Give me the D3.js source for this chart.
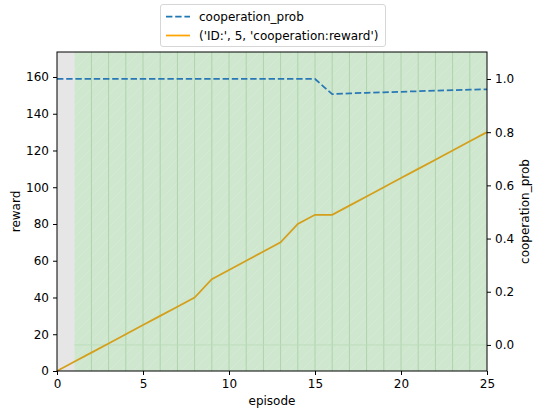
<!DOCTYPE html>
<html>
  <head>
    <meta charset="utf-8">
    <title>cooperation</title>
    <style>
      body { margin: 0; background: white; }
      text { font-family: "DejaVu Sans", sans-serif; font-size: 12px; fill: #000; }
      .axis path, .axis line { stroke: #000; stroke-width: 1; }
    </style>
  </head>
  <body>
    <svg width="534" height="410"></svg>
    <script src="https://d3js.org/d3.v7.min.js"></script>
    <script type="application/javascript">
      const episodes = d3.range(0, 26);
      const reward = [0, 5, 10, 15, 20, 25, 30, 35, 40, 50, 55, 60, 65, 70, 80, 85, 85,
                      90, 95, 100, 105, 110, 115, 120, 125, 130];
      const coopProb = [1, 1, 1, 1, 1, 1, 1, 1, 1, 1, 1, 1, 1, 1, 1, 1,
                        0.943, 0.946, 0.948, 0.950, 0.952, 0.954, 0.956, 0.958, 0.960, 0.961];
      const rewardTicks = [0, 20, 40, 60, 80, 100, 120, 140, 160];
      const probTicks = [0.0, 0.2, 0.4, 0.6, 0.8, 1.0];
      const xTicks = [0, 5, 10, 15, 20, 25];
      const legendLabels = ["cooperation_prob", "('ID:', 5, 'cooperation:reward')"];

      const svg = d3.select("svg");
      const m = {left: 57, right: 487, top: 52, bottom: 371};

      const x = d3.scaleLinear().domain([0, 25]).range([m.left, m.right]);
      const yL = d3.scaleLinear().domain([0, 173.6]).range([m.bottom, m.top]);
      const yR = d3.scaleLinear().domain([-0.098, 1.1015]).range([m.bottom, m.top]);

      const defs = svg.append("defs");
      const pat = defs.append("pattern")
        .attr("id", "hatch")
        .attr("patternUnits", "userSpaceOnUse")
        .attr("width", 12).attr("height", 12);
      pat.append("path")
        .attr("d", "M0,12 L12,0 M-3,3 L3,-3 M9,15 L15,9")
        .attr("stroke", "white").attr("stroke-width", 0.7).attr("opacity", 0.15);

      // grey background for the first step
      svg.append("rect")
        .attr("x", x(0)).attr("y", m.top)
        .attr("width", x(1) - x(0)).attr("height", m.bottom - m.top)
        .attr("fill", "#e6e6e6");

      // green span
      svg.append("rect")
        .attr("x", x(1)).attr("y", m.top)
        .attr("width", x(25) - x(1)).attr("height", m.bottom - m.top)
        .attr("fill", "#d0e7cf");
      svg.append("rect")
        .attr("x", x(1)).attr("y", m.top)
        .attr("width", x(25) - x(1)).attr("height", m.bottom - m.top)
        .attr("fill", "url(#hatch)");

      // per-episode vertical lines
      svg.append("g")
        .selectAll("line")
        .data(episodes.filter(d => d >= 2 && d < 25))
        .enter()
          .append("line")
          .attr("x1", d => x(d)).attr("x2", d => x(d))
          .attr("y1", m.top).attr("y2", m.bottom)
          .attr("stroke", "#acd4ab").attr("stroke-width", 1);

      // faint horizontal line at prob 0
      svg.append("line")
        .attr("x1", x(1)).attr("x2", x(25))
        .attr("y1", yR(0)).attr("y2", yR(0))
        .attr("stroke", "#bcdcbb").attr("stroke-width", 1);

      // reward line
      const rewardLine = d3.line().x((d, i) => x(episodes[i])).y(d => yL(d));
      svg.append("path")
        .datum(reward)
        .attr("d", rewardLine)
        .attr("fill", "none")
        .attr("stroke", "#d49f1a")
        .attr("stroke-width", 1.75);

      // cooperation prob line
      const probLine = d3.line().x((d, i) => x(episodes[i])).y(d => yR(d));
      svg.append("path")
        .datum(coopProb)
        .attr("d", probLine)
        .attr("fill", "none")
        .attr("stroke", "#2878b6")
        .attr("stroke-width", 1.75)
        .attr("stroke-dasharray", "6.4,2.8");

      // frame
      svg.append("rect")
        .attr("x", m.left).attr("y", m.top)
        .attr("width", m.right - m.left).attr("height", m.bottom - m.top)
        .attr("fill", "none").attr("stroke", "#000").attr("stroke-width", 1);

      // axes
      const styleTicks = g => g.selectAll("text").style("font-size", "12px").style("font-family", "DejaVu Sans");

      svg.append("g")
        .attr("class", "axis")
        .attr("transform", `translate(0,${m.bottom})`)
        .call(d3.axisBottom(x).tickValues(xTicks).tickSize(4).tickPadding(4).tickFormat(d3.format("d")))
        .call(g => g.select(".domain").remove())
        .call(styleTicks);

      svg.append("g")
        .attr("class", "axis")
        .attr("transform", `translate(${m.left},0)`)
        .call(d3.axisLeft(yL).tickValues(rewardTicks).tickSize(4).tickPadding(4).tickFormat(d3.format("d")))
        .call(g => g.select(".domain").remove())
        .call(styleTicks);

      svg.append("g")
        .attr("class", "axis")
        .attr("transform", `translate(${m.right},0)`)
        .call(d3.axisRight(yR).tickValues(probTicks).tickSize(4).tickPadding(4).tickFormat(d3.format(".1f")))
        .call(g => g.select(".domain").remove())
        .call(styleTicks);

      // axis labels
      svg.append("text")
        .attr("x", (m.left + m.right) / 2).attr("y", 405)
        .attr("text-anchor", "middle")
        .text("episode");
      svg.append("text")
        .attr("transform", `translate(20,${(m.top + m.bottom) / 2}) rotate(-90)`)
        .attr("text-anchor", "middle")
        .text("reward");
      svg.append("text")
        .attr("transform", `translate(529,${(m.top + m.bottom) / 2}) rotate(-90)`)
        .attr("text-anchor", "middle")
        .text("cooperation_prob");

      // legend
      const lg = svg.append("g");
      lg.append("rect")
        .attr("x", 160.5).attr("y", 4.5).attr("width", 225).attr("height", 42)
        .attr("rx", 2.5)
        .attr("fill", "white").attr("fill-opacity", 0.8)
        .attr("stroke", "#d6d6d6").attr("stroke-width", 1);
      const legendStyles = [
        {color: "#1f77b4", dash: "6.4,2.8"},
        {color: "#ffa500", dash: null}
      ];
      legendLabels.forEach((label, i) => {
        const yy = 16.5 + i * 19;
        lg.append("line")
          .attr("x1", 166).attr("x2", 190)
          .attr("y1", yy).attr("y2", yy)
          .attr("stroke", legendStyles[i].color)
          .attr("stroke-width", 1.75)
          .attr("stroke-dasharray", legendStyles[i].dash);
        lg.append("text")
          .attr("x", 199).attr("y", yy + 4.5)
          .text(label);
      });
    </script>
  </body>
</html>
